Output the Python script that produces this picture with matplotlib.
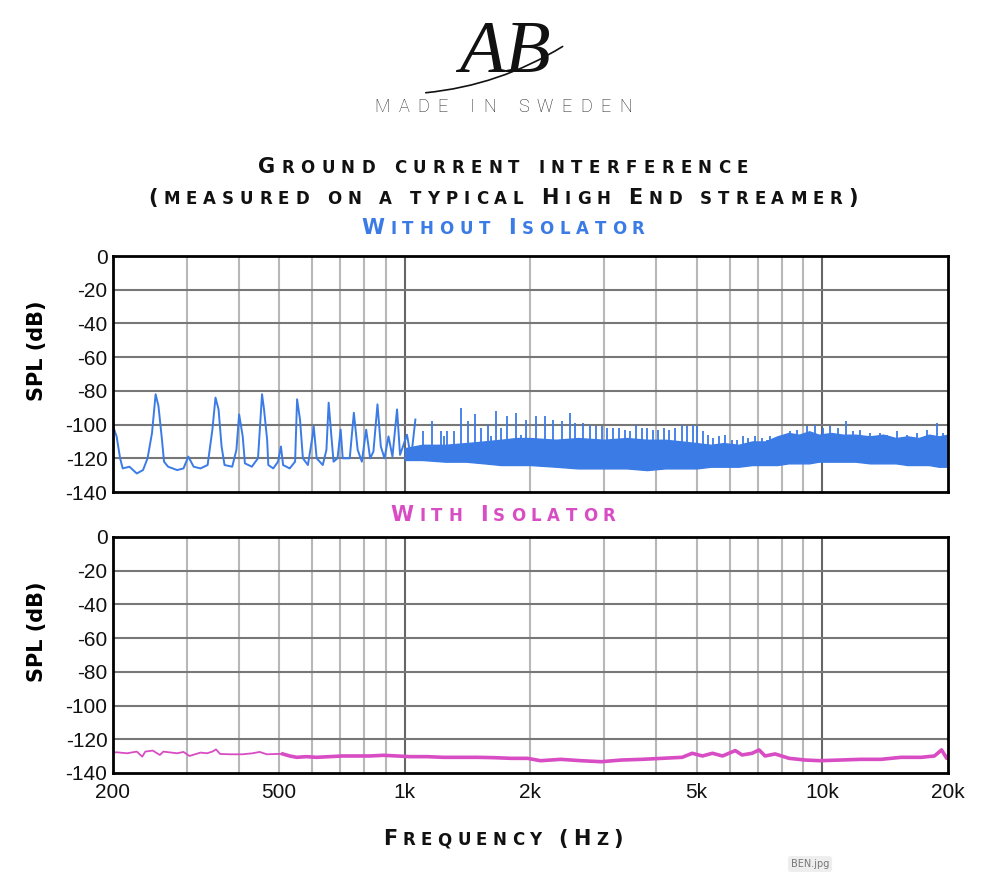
"""
Ground current interference chart: spectrum without / with isolator.
"""
import matplotlib
matplotlib.use("Agg")

import matplotlib.pyplot as plt
import numpy as np
from matplotlib.patches import FancyArrowPatch
from matplotlib.ticker import FixedLocator, NullLocator

W, H = 1000, 873
BLUE = "#3b7be6"
MAGENTA = "#d84cc4"

# axis definitions
db_ticks = [0, -20, -40, -60, -80, -100, -120, -140]
freq_ticks = [200, 500, 1000, 2000, 5000, 10000, 20000]
freq_labels = ["200", "500", "1k", "2k", "5k", "10k", "20k"]
grid_minor = [300, 400, 500, 600, 700, 800, 900,
              2000, 3000, 4000, 5000, 6000, 7000, 8000, 9000]
grid_major = [1000, 10000]

# without isolator: trace below ~1 kHz (hum harmonics)
low_freq = [200, 204, 208, 211, 219, 228, 236, 242, 248, 253, 257, 262, 265, 271,
            285, 295, 303, 312, 324, 337, 346, 352, 358, 364, 370, 386, 395, 401,
            409, 414, 430, 445, 455, 460, 468, 471, 484, 497, 505, 511, 530, 546,
            552, 561, 570, 586, 601, 605, 615, 636, 649, 657, 667, 675, 690, 702,
            710, 738, 755, 771, 789, 808, 826, 841, 860, 876, 894, 914, 934, 958,
            974, 1012, 1035, 1060]
low_db = [-101, -107, -120, -126, -125, -129, -127, -120, -105, -82, -89, -109, -122, -125,
          -127, -126, -119, -125, -126, -124, -103, -84, -91, -113, -124, -125, -115, -94,
          -107, -123, -125, -120, -82, -91, -109, -124, -126, -122, -113, -124, -126, -122,
          -85, -97, -120, -124, -107, -101, -120, -124, -115, -87, -107, -122, -120, -103,
          -120, -120, -93, -115, -122, -103, -120, -116, -88, -113, -120, -107, -119, -91,
          -118, -106, -120, -97]

# without isolator: dense noise band above 1 kHz
band_freq = [1000, 1100, 1250, 1400, 1550, 1700, 1850, 2000, 2300, 2600, 3000, 3400, 3800,
             4200, 4600, 5000, 5400, 5800, 6300, 6800, 7300, 7800, 8300, 8800, 9300, 9800,
             10500, 11200, 12000, 13000, 14000, 15000, 16000, 17000, 18000, 19000, 20000]
band_high = [-114, -112, -112, -111, -110, -109, -108, -108, -109, -108, -109, -108, -109,
             -109, -110, -111, -112, -111, -112, -110, -110, -107, -105, -106, -104, -106,
             -105, -106, -106, -107, -106, -108, -107, -108, -106, -107, -106]
band_low = [-121, -121, -122, -122, -123, -124, -124, -124, -125, -126, -126, -126, -127,
            -126, -126, -126, -125, -125, -125, -124, -124, -124, -123, -123, -123, -122,
            -122, -122, -122, -123, -123, -123, -124, -124, -124, -125, -125]

# without isolator: spikes standing above the band
spike_freq = [1108, 1161, 1219, 1240, 1264, 1313, 1362, 1415, 1470, 1525, 1581, 1608, 1651,
              1697, 1759, 1848, 1902, 1956, 2067, 2167, 2270, 2377, 2480, 2555, 2668, 2777,
              2870, 2962, 3044, 3158, 3264, 3368, 3462, 3578, 3692, 3796, 3924, 4048, 4176,
              4300, 4438, 4604, 4732, 4892, 5018, 5170, 5334, 5482, 5666, 5848, 6068, 6238,
              6468, 6648, 6898, 7158, 7358, 7494, 8368, 8680, 9172, 9604, 10054, 10434,
              10924, 11376, 11866, 12310, 13010, 13746, 14262, 15072, 15924, 16828, 17780,
              18792, 19492]
spike_db = [-104, -98, -104, -107, -104, -104, -90, -98, -94, -102, -100, -107, -92,
            -102, -95, -93, -106, -97, -95, -95, -97, -98, -93, -99, -99, -100,
            -101, -101, -102, -102, -102, -103, -104, -100, -102, -102, -103, -103, -102,
            -103, -102, -100, -101, -100, -101, -104, -106, -108, -107, -106, -109, -109,
            -107, -108, -107, -108, -109, -107, -104, -103, -101, -100, -102, -101,
            -102, -98, -104, -103, -105, -105, -106, -104, -106, -105, -103,
            -99, -105]

# with isolator
mag_freq = [200, 204, 216, 228, 235, 239, 249, 259, 264, 285, 295, 305, 324, 336, 346, 353,
            361, 381, 409, 432, 449, 467, 494, 510, 530, 551, 581, 615, 660, 710, 767, 826,
            888, 958, 1029, 1130, 1238, 1362, 1492, 1633, 1796, 1966, 2114, 2364, 2643,
            2954, 3303, 3693, 4129, 4616, 4880, 5160, 5455, 5768, 6187, 6424, 6792, 7056,
            7291, 7709, 8326, 9096, 9869, 11044, 12350, 13809, 15440, 17264, 18560, 19304,
            19857, 20000]
mag_db = [-128, -127.7, -128.3, -127.3, -130.3, -127.3, -126.7, -129.3, -127.3, -128.3,
          -127.5, -129.9, -127.9, -128.3, -127.3, -126.0, -128.7, -128.9, -128.9, -128.3,
          -127.5, -128.9, -128.7, -128.7, -129.9, -130.7, -130.3, -130.7, -130.3, -129.9,
          -129.9, -129.9, -129.5, -129.9, -130.3, -130.3, -130.7, -130.7, -130.7, -130.9,
          -131.3, -131.3, -132.7, -131.9, -132.7, -133.3, -132.3, -131.9, -131.3, -130.7,
          -128.3, -129.9, -128.3, -129.9, -126.7, -129.3, -128.3, -126.3, -129.9, -128.7,
          -131.3, -132.3, -132.7, -132.3, -131.9, -131.9, -130.7, -130.7, -129.9, -126.3,
          -131.3, -130]


def px_box(left, top, right, bottom):
    return [left / W, 1 - bottom / H, (right - left) / W, (bottom - top) / H]


def style_axes(ax, show_x):
    ax.set_xscale("log")
    ax.set_xlim(200, 20000)
    ax.set_ylim(-140, 0)
    ax.yaxis.set_major_locator(FixedLocator(db_ticks))
    ax.set_yticklabels([str(v) for v in db_ticks])
    ax.xaxis.set_major_locator(FixedLocator(freq_ticks))
    ax.xaxis.set_minor_locator(NullLocator())
    ax.set_xticklabels(freq_labels if show_x else [])
    ax.tick_params(axis="both", length=0, labelsize=15, labelfontfamily="Liberation Sans",
                   colors="#111111")
    ax.tick_params(axis="y", pad=4)
    ax.tick_params(axis="x", pad=7)
    for f in grid_minor:
        ax.axvline(f, color="#b8b8b8", lw=1.5, zorder=0)
    for f in grid_major:
        ax.axvline(f, color="#666666", lw=1.5, zorder=0)
    for d in db_ticks[1:-1]:
        ax.axhline(d, color="#777777", lw=1.5, zorder=0)
    for sp in ax.spines.values():
        sp.set_linewidth(2)
        sp.set_color("black")
        sp.set_zorder(5)
    ax.set_ylabel("SPL (dB)", fontsize=15, fontweight="bold", family="DejaVu Sans")
    ax.yaxis.set_label_coords(-0.079, 0.6)


def spaced_text(fig, text, y_px, width_px, big, small, color,
                weight="bold", family=("DejaVu Sans",), center_px=500):
    """Small-caps style text, spread out to a given width (in pixels)."""
    renderer = fig.canvas.get_renderer()
    items = []
    for ch in text:
        size = small if ch.islower() else big
        t = fig.text(0, 1 - y_px / H, ch.upper(), fontsize=size, color=color,
                     fontweight=weight, family=list(family), va="baseline", ha="left")
        items.append(t)
    widths = []
    for t, ch in zip(items, text):
        if ch == " ":
            widths.append(big * 0.3 * fig.dpi / 72)
        else:
            widths.append(t.get_window_extent(renderer).width)
    gap = (width_px - sum(widths)) / (len(text) - 1)
    x = center_px - width_px / 2
    for t, w in zip(items, widths):
        t.set_x(x / W)
        x += w + gap


fig = plt.figure(figsize=(W / 100, H / 100), dpi=100)
fig.patch.set_facecolor("white")

ax_top = fig.add_axes(px_box(113, 256, 948, 492))
ax_bot = fig.add_axes(px_box(113, 537, 948, 773))
style_axes(ax_top, False)
style_axes(ax_bot, True)

# without isolator
ax_top.fill_between(band_freq, band_low, band_high, color=BLUE, lw=1.0, zorder=2)
ax_top.vlines(spike_freq, -112, spike_db, color=BLUE, lw=1.3, zorder=3)
ax_top.plot(low_freq, low_db, color=BLUE, lw=1.4, zorder=3)

# with isolator
mag_freq_arr = np.array(mag_freq)
mag_db_arr = np.array(mag_db)
ax_bot.plot(mag_freq_arr, mag_db_arr, color=MAGENTA, lw=1.3, zorder=3)
thick = mag_freq_arr >= 500
ax_bot.plot(mag_freq_arr[thick], mag_db_arr[thick], color=MAGENTA, lw=2.6, zorder=3)

# logo
fig.text(0.505, 1 - 72 / H, "AB", fontsize=54, style="italic",
         family="Liberation Serif", ha="center", va="baseline", color="#111111")
swoosh = FancyArrowPatch((423 / W, 1 - 93 / H), (565 / W, 1 - 45 / H),
                         transform=fig.transFigure, arrowstyle="-",
                         connectionstyle="arc3,rad=0.12", lw=1.2, color="#111111")
fig.add_artist(swoosh)
spaced_text(fig, "MADE IN SWEDEN", 112, 257, 13, 13, "#222222",
            weight="light", family=("Roboto", "DejaVu Sans"), center_px=503)

# headings
spaced_text(fig, "Ground current interference", 173, 490, 15, 12, "#111111", center_px=503)
spaced_text(fig, "(measured on a typical High End streamer)", 204, 710, 15, 12, "#111111",
            center_px=503)
spaced_text(fig, "Without Isolator", 234, 283, 15, 12, BLUE, center_px=503)
spaced_text(fig, "With Isolator", 521, 225, 15, 12, MAGENTA, center_px=503)
spaced_text(fig, "Frequency (Hz)", 845, 240, 15, 12, "#111111", center_px=503)

fig.text(0.81, 1 - 864 / H, "BEN.jpg", fontsize=7, color="#777777", ha="center",
         va="center", bbox=dict(boxstyle="round,pad=0.3", fc="#eeeeee", ec="none"))

fig.savefig("out.png", dpi=100)
print("Saved: out.png")
